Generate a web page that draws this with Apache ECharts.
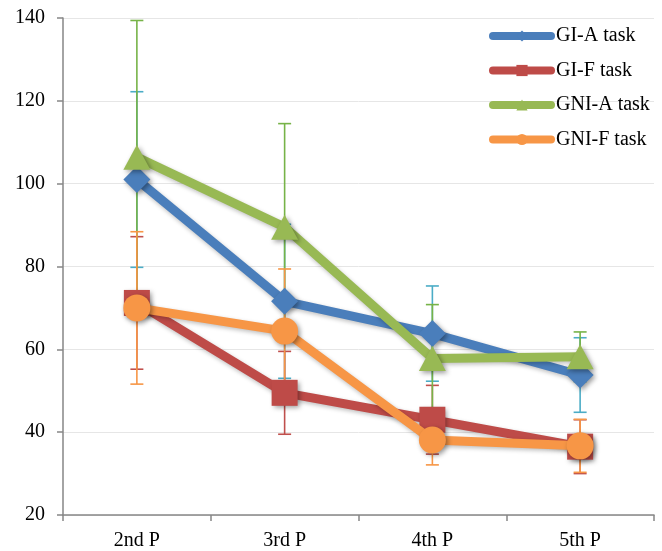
<!DOCTYPE html>
<html>
<head>
<meta charset="utf-8">
<script src="https://cdn.jsdelivr.net/npm/echarts@6/dist/echarts.min.js"></script>
<style>html,body{margin:0;padding:0;background:#fff;}#c{width:662px;height:551px;}</style>
</head>
<body>
<div id="c"></div>
<script>
const categories = ['2nd P', '3rd P', '4th P', '5th P'];
const seriesNames = ['GI-A task', 'GI-F task', 'GNI-A task', 'GNI-F task'];
const giA = [101, 71.6, 63.8, 53.8];
const giAErr = [21.2, 18.6, 11.5, 9];
const giF = [71.2, 49.5, 43, 36.5];
const giFErr = [16, 10, 8.3, 6.5];
const gniA = [106.4, 89.5, 57.8, 58.2];
const gniAErr = [33, 25, 13, 6];
const gniF = [70, 64.4, 38.1, 36.7];
const gniFErr = [18.4, 15, 6, 6.4];
const yTicks = { min: 20, max: 140, interval: 20 };

const colors = ['#4A7EBB', '#BE4B48', '#98B954', '#F79646'];
const errColors = ['#4BACC6', '#C0504D', '#77B348', '#F79646'];
const symbols = ['diamond', 'rect', 'triangle', 'circle'];
const symSizes = [[27, 27], [26, 26], [27, 25], [27, 27]];
const values = [giA, giF, gniA, gniF];
const errs = [giAErr, giFErr, gniAErr, gniFErr];
const font = '"Liberation Serif", "Times New Roman", serif';

const series = [];
values.forEach((vals, si) => {
  series.push({
    type: 'custom',
    name: seriesNames[si] + ' err',
    coordinateSystem: 'cartesian2d',
    z: 1,
    silent: true,
    encode: { x: 0, y: [1, 2] },
    data: vals.map((v, i) => [i, v - errs[si][i], v + errs[si][i]]),
    renderItem: function (params, api) {
      const lo = api.coord([api.value(0), api.value(1)]);
      const hi = api.coord([api.value(0), api.value(2)]);
      const hw = 6.5;
      const st = { stroke: errColors[si], lineWidth: 1.6 };
      return {
        type: 'group',
        children: [
          { type: 'line', shape: { x1: hi[0], y1: hi[1], x2: lo[0], y2: lo[1] }, style: st },
          { type: 'line', shape: { x1: hi[0] - hw, y1: hi[1], x2: hi[0] + hw, y2: hi[1] }, style: st },
          { type: 'line', shape: { x1: lo[0] - hw, y1: lo[1], x2: lo[0] + hw, y2: lo[1] }, style: st }
        ]
      };
    }
  });
});
values.forEach((vals, si) => {
  series.push({
    type: 'line',
    name: seriesNames[si],
    data: vals,
    z: 2 + si,
    symbol: symbols[si],
    symbolSize: symSizes[si],
    showAllSymbol: true,
    lineStyle: { color: colors[si], width: 9, shadowBlur: 4, shadowColor: 'rgba(0,0,0,0.25)', shadowOffsetX: 1, shadowOffsetY: 2 },
    itemStyle: { color: colors[si], opacity: 1, shadowBlur: 5, shadowColor: 'rgba(0,0,0,0.4)', shadowOffsetX: 2, shadowOffsetY: 2 },
    emphasis: { disabled: true },
    animation: false
  });
});

const chart = echarts.init(document.getElementById('c'));
chart.setOption({
  animation: false,
  backgroundColor: '#fff',
  grid: { left: 63, right: 8, top: 18, bottom: 35, containLabel: false },
  legend: {
    orient: 'vertical',
    left: 484,
    top: 21,
    itemWidth: 58,
    itemHeight: 14,
    itemGap: 14.5,
    data: seriesNames,
    lineStyle: { width: 8, cap: 'round', shadowBlur: 0, shadowOffsetX: 0, shadowOffsetY: 0 },
    itemStyle: { shadowBlur: 0, shadowOffsetX: 0, shadowOffsetY: 0 },
    textStyle: { fontFamily: font, fontSize: 20, color: '#000' }
  },
  xAxis: {
    type: 'category',
    data: categories,
    boundaryGap: true,
    axisLine: { lineStyle: { color: '#868686', width: 1.5 } },
    axisTick: { show: true, length: 6, lineStyle: { color: '#868686', width: 1.5 } },
    axisLabel: { fontFamily: font, fontSize: 20, color: '#000', margin: 16 },
    splitLine: { show: false }
  },
  yAxis: {
    type: 'value',
    min: yTicks.min,
    max: yTicks.max,
    interval: yTicks.interval,
    axisLine: { show: true, lineStyle: { color: '#868686', width: 1.5 } },
    axisTick: { show: true, length: 6, lineStyle: { color: '#868686', width: 1.5 } },
    axisLabel: { fontFamily: font, fontSize: 20, color: '#000', margin: 18 },
    splitLine: { show: true, lineStyle: { color: '#E6E6E6', width: 1 } }
  },
  series: series
});
</script>
</body>
</html>
